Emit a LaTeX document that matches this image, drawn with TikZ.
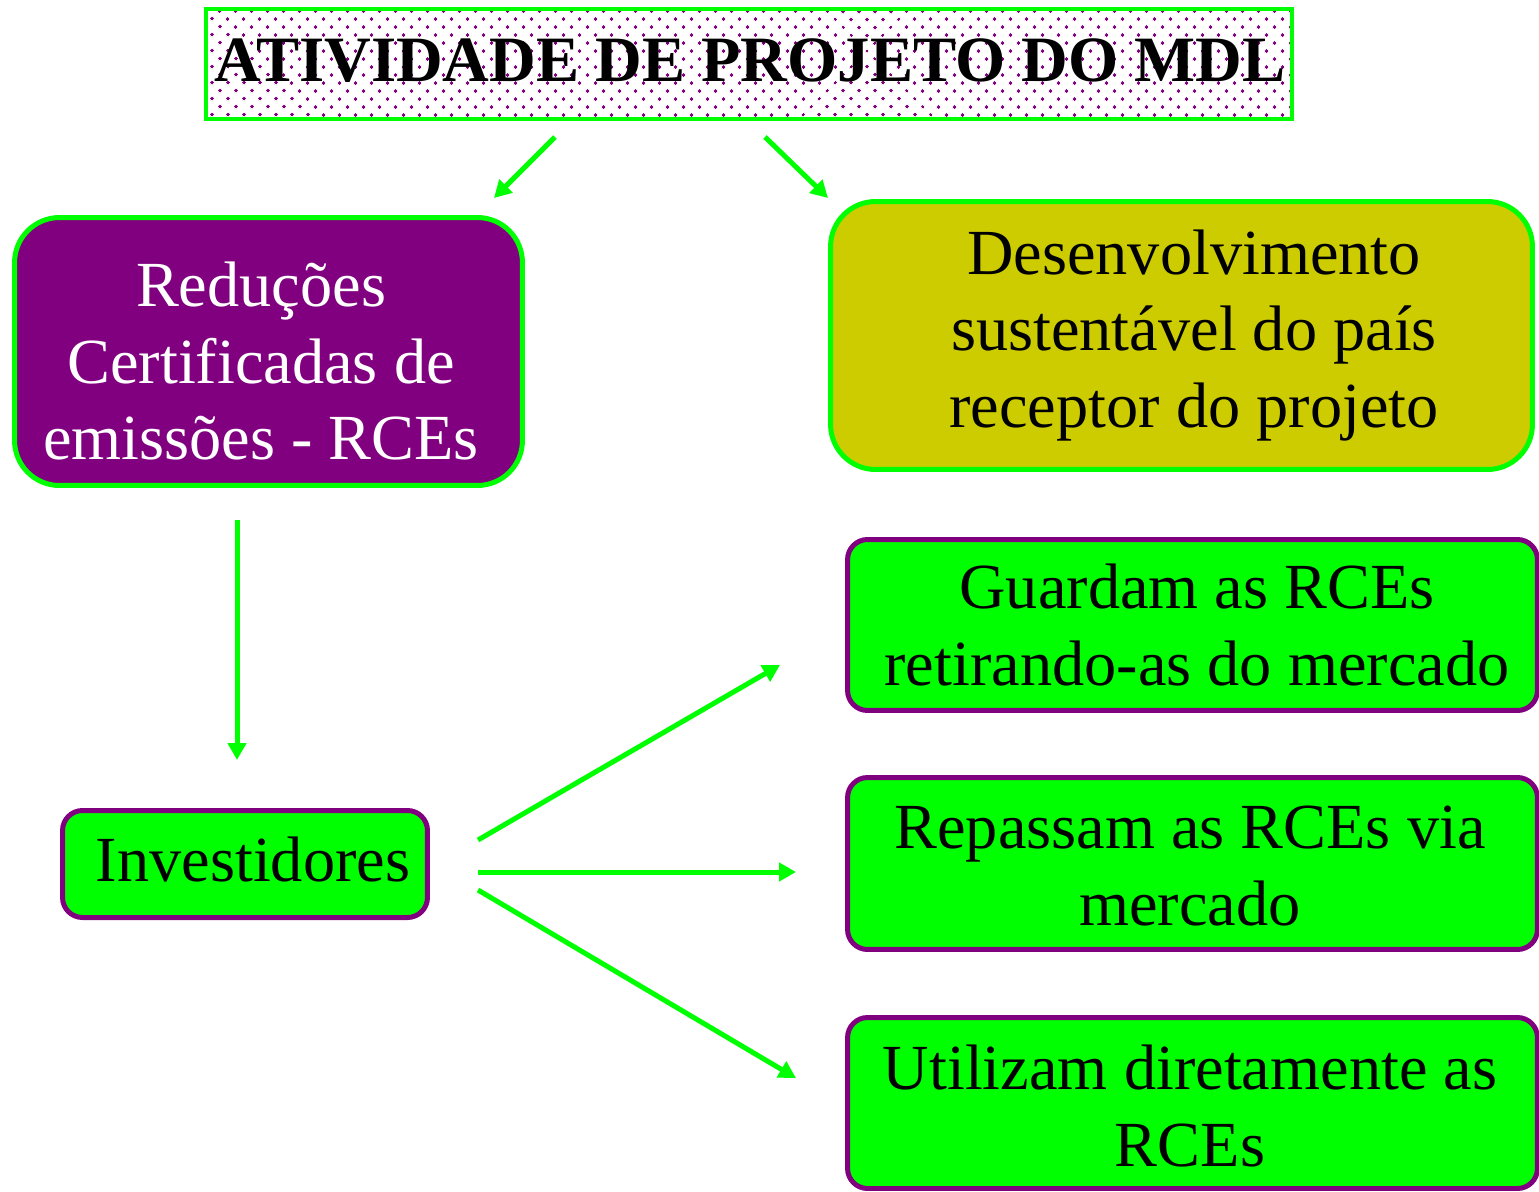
\documentclass[tikz,border=0pt]{standalone}
\usepackage{fontspec}
\setmainfont{Liberation Serif}
\usetikzlibrary{arrows.meta,patterns.meta}
\definecolor{mdlgreen}{RGB}{0,255,0}
\definecolor{mdlpurple}{RGB}{128,0,128}
\definecolor{mdlolive}{RGB}{204,204,0}
\begin{document}
\begin{tikzpicture}[x=0.02cm,y=-0.02cm]
		\tikzstyle{text_style} = [align=center,font=\fontsize{36.6}{43.8}\selectfont,inner sep=0pt]
		\tikzstyle{title_style} = [draw=mdlgreen,line width=0.08cm,preaction={fill=white},pattern={Dots[angle=45,distance=6.4pt,radius=0.95pt]},pattern color=mdlpurple,minimum width=21.72cm,minimum height=2.2cm]
		\tikzstyle{big_style} = [draw=mdlgreen,line width=0.1cm,rounded corners=0.9cm,minimum height=5.36cm]
		\tikzstyle{small_style} = [draw=mdlpurple,fill=mdlgreen,line width=0.1cm,rounded corners=0.4cm]
		\tikzstyle{edge_style} = [draw=mdlgreen,line width=0.1cm,-{Triangle[length=0.34cm,width=0.36cm]}]
		\useasboundingbox (0,0) rectangle (1539,1191);
		% boxes
		\node[title_style] (titulo) at (749,64) {};
		\node[big_style,fill=mdlpurple,minimum width=10.16cm] (rce) at (268.5,351.5) {};
		\node[big_style,fill=mdlolive,minimum width=14.04cm] (desenv) at (1181.5,335.5) {};
		\node[small_style,minimum width=7.3cm,minimum height=2.14cm] (invest) at (245,864) {};
		\node[small_style,minimum width=13.8cm,minimum height=3.42cm] (guardam) at (1192.5,625) {};
		\node[small_style,minimum width=13.8cm,minimum height=3.44cm] (repassam) at (1192.5,863.5) {};
		\node[small_style,minimum width=13.8cm,minimum height=3.42cm] (utilizam) at (1192.5,1103) {};
		% texts
		\node[text_style,font=\fontsize{36.8}{43.8}\selectfont\bfseries] (titulo_txt) at ([xshift=0.02cm,yshift=0.06cm]titulo.center) {ATIVIDADE DE PROJETO DO MDL};
		\node[text_style,text=white] (rce_txt) at ([xshift=-0.15cm,yshift=-0.19cm]rce.center) {Reduções\\Certificadas de\\emissões - RCEs};
		\node[text_style] (desenv_txt) at ([xshift=0.25cm]desenv.center) {Desenvolvimento\\sustentável do país\\receptor do projeto};
		\node[text_style] (invest_txt) at ([xshift=0.16cm,yshift=0.1cm]invest.center) {Investidores};
		\node[text_style] (guardam_txt) at ([xshift=0.09cm]guardam.center) {Guardam as RCEs\\retirando-as do mercado};
		\node[text_style] (repassam_txt) at ([xshift=-0.05cm,yshift=-0.05cm]repassam.center) {Repassam as RCEs via\\mercado};
		\node[text_style] (utilizam_txt) at ([xshift=-0.05cm,yshift=-0.06cm]utilizam.center) {Utilizam diretamente as\\RCEs};
		% arrow ends
		\coordinate (t1) at (555,137);
		\coordinate (t2) at (494,198);
		\coordinate (t3) at (765,137);
		\coordinate (t4) at (828,198);
		\coordinate (r1) at (237,520);
		\coordinate (r2) at (237,760);
		\coordinate (i1) at (478,840);
		\coordinate (i2) at (478,872);
		\coordinate (i3) at (478,890);
		\coordinate (g1) at (780,665);
		\coordinate (p1) at (796,872);
		\coordinate (u1) at (796,1078);
		\draw[edge_style] (t1) -- (t2);
		\draw[edge_style] (t3) -- (t4);
		\draw[edge_style] (r1) -- (r2);
		\draw[edge_style] (i1) -- (g1);
		\draw[edge_style] (i2) -- (p1);
		\draw[edge_style] (i3) -- (u1);
\end{tikzpicture}
\end{document}
